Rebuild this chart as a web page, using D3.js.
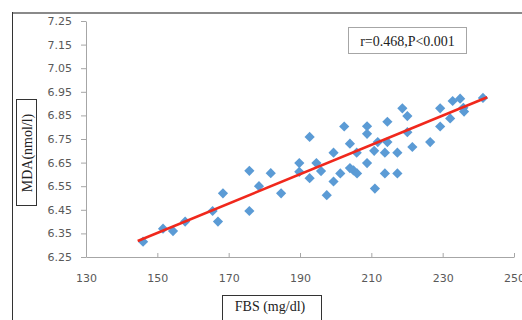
<!DOCTYPE html>
<html>
<head>
<meta charset="utf-8">
<script src="https://cdn.jsdelivr.net/npm/d3@7"></script>
<style>
  body { margin: 0; background: #fff; }
  svg { display: block; }
</style>
</head>
<body>
<script>
// FBS vs MDA scatter
var fbs = [146, 151.6, 154.4, 157.8, 165.5, 167, 168.4, 175.8, 175.8, 178.5,
           181.8, 184.7, 189.8, 189.8, 192.7, 192.7, 194.6, 195.9, 197.5, 199.4,
           199.4, 201.3, 202.4, 204, 204, 205, 205.9, 206, 208.8, 208.8,
           208.8, 210.8, 211, 211.8, 213.8, 213.8, 214.5, 214.5, 217.3, 217.3,
           218.7, 220.1, 220.1, 221.5, 226.5, 229.3, 229.3, 232.1, 232.8, 234.9,
           235.8, 236, 241.3];
var mda = [6.315, 6.37, 6.36, 6.40, 6.445, 6.40, 6.52, 6.615, 6.445, 6.55,
           6.605, 6.52, 6.648, 6.611, 6.759, 6.584, 6.648, 6.614, 6.512, 6.692,
           6.57, 6.604, 6.803, 6.73, 6.627, 6.617, 6.692, 6.604, 6.804, 6.772,
           6.648, 6.70, 6.54, 6.737, 6.692, 6.604, 6.823, 6.737, 6.692, 6.604,
           6.88, 6.847, 6.779, 6.716, 6.737, 6.88, 6.803, 6.837, 6.911, 6.921,
           6.882, 6.866, 6.924];

// linear trend line end points
var trendX = [144.5, 242.5];
var trendY = [6.318, 6.927];

var xTicks = [130, 150, 170, 190, 210, 230, 250];
var yTicks = [6.25, 6.35, 6.45, 6.55, 6.65, 6.75, 6.85, 6.95, 7.05, 7.15, 7.25];

var statText = "r=0.468,P<0.001";
var xTitle = "FBS (mg/dl)";
var yTitle = "MDA(nmol/l)";

var svgWidth = 522;
var svgHeight = 320;

var svg = d3.select("body")
  .append("svg")
  .attr("width", svgWidth)
  .attr("height", svgHeight);

// outer frame (only top and left visible)
svg.append("line")
  .attr("x1", 12).attr("y1", 13).attr("x2", svgWidth).attr("y2", 13)
  .attr("stroke", "#8a8a8a").attr("stroke-width", 2);
svg.append("line")
  .attr("x1", 12.5).attr("y1", 12).attr("x2", 12.5).attr("y2", svgHeight)
  .attr("stroke", "#333").attr("stroke-width", 1);

var x = d3.scaleLinear().domain([130, 250]).range([86, 514]);
var y = d3.scaleLinear().domain([6.25, 7.25]).range([257, 21]);

var xAxis = d3.axisBottom(x)
  .tickValues(xTicks)
  .tickSizeInner(-4)
  .tickSizeOuter(0)
  .tickPadding(17)
  .tickFormat(d3.format("d"));

var yAxis = d3.axisLeft(y)
  .tickValues(yTicks)
  .tickSizeInner(5)
  .tickSizeOuter(0)
  .tickPadding(9)
  .tickFormat(d3.format(".2f"));

var gx = svg.append("g")
  .attr("transform", "translate(0," + y(6.25) + ")")
  .call(xAxis);

var gy = svg.append("g")
  .attr("transform", "translate(" + x(130) + ",0)")
  .call(yAxis);

[gx, gy].forEach(function(g) {
  g.selectAll("path, line").attr("stroke", "#a6a6a6");
  g.selectAll("text")
    .attr("fill", "#595959")
    .style("font-family", "DejaVu Sans")
    .style("font-size", "11px");
});

// points: blue diamonds
svg.append("g")
  .selectAll("path")
  .data(fbs)
  .enter()
  .append("path")
  .attr("d", d3.symbol().type(d3.symbolSquare).size(52))
  .attr("transform", function(d, i) {
    return "translate(" + x(d) + "," + y(mda[i]) + ") rotate(45)";
  })
  .attr("fill", "#5b9bd5");

// trend line
var line = d3.line()
  .x(function(d) { return x(d); })
  .y(function(d, i) { return y(trendY[i]); });

svg.append("path")
  .datum(trendX)
  .attr("d", line)
  .attr("fill", "none")
  .attr("stroke", "#f0281c")
  .attr("stroke-width", 2.6);

// stat box
svg.append("rect")
  .attr("x", 348.5).attr("y", 27.5)
  .attr("width", 118).attr("height", 26)
  .attr("fill", "#fff")
  .attr("stroke", "#a6a6a6");
svg.append("text")
  .attr("x", 407.5).attr("y", 45.5)
  .style("text-anchor", "middle")
  .style("font-family", "Liberation Serif")
  .style("font-size", "14px")
  .attr("fill", "#222")
  .text(statText);

// x title box
svg.append("rect")
  .attr("x", 222.5).attr("y", 295.5)
  .attr("width", 99).attr("height", 30)
  .attr("fill", "#fff")
  .attr("stroke", "#333");
svg.append("text")
  .attr("x", 270).attr("y", 311)
  .style("text-anchor", "middle")
  .style("font-family", "Liberation Serif")
  .style("font-size", "14px")
  .attr("fill", "#222")
  .text(xTitle);

// y title box
svg.append("rect")
  .attr("x", 16.5).attr("y", 99.5)
  .attr("width", 20).attr("height", 106)
  .attr("fill", "#fff")
  .attr("stroke", "#333");
svg.append("text")
  .attr("transform", "translate(31.5,153) rotate(-90)")
  .style("text-anchor", "middle")
  .style("font-family", "Liberation Serif")
  .style("font-size", "14px")
  .attr("fill", "#222")
  .text(yTitle);
</script>
</body>
</html>
